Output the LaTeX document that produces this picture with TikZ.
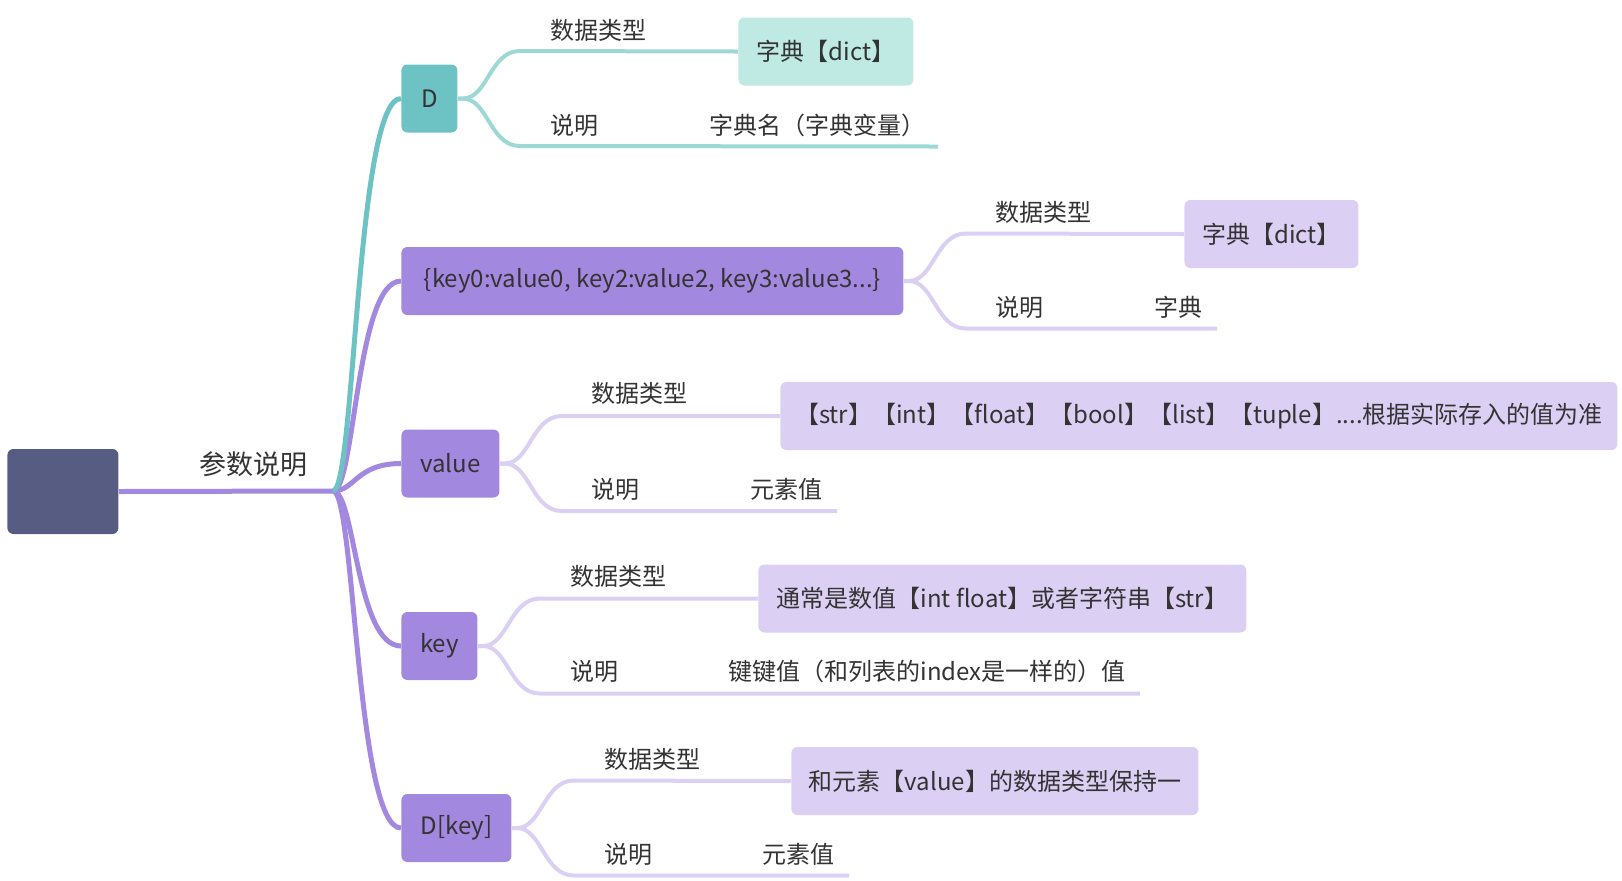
\documentclass[tikz,border=0pt]{standalone}
\usepackage{fontspec}
\setmainfont{Noto Sans CJK SC}
\usetikzlibrary{calc}
\definecolor{rootblue}{HTML}{575D82}
\definecolor{plum}{HTML}{A388DF}
\definecolor{lilac}{HTML}{DBD0F4}
\definecolor{tealdark}{HTML}{6DC3C3}
\definecolor{tealline}{HTML}{9DD8D5}
\definecolor{teallight}{HTML}{BFEAE3}
\definecolor{ink}{HTML}{333333}
\tikzset{x=0.5pt, y=-0.5pt, % one unit is one pixel of the layout, y runs down
        every node/.style={ % text of every topic
            text=ink,
            inner sep=0pt,
            font=\fontsize{12}{14}\selectfont},
        topic/.style={ % filled boxes, placed by their left edge
            rectangle,
            rounded corners=3pt,
            anchor=west,
            minimum height=34pt},
        lbl/.style={}, % plain labels sitting on a branch
        trunk/.style={ % branches leaving the central topic
            draw=plum,
            line width=2.5pt},
        twig/.style={ % branches of the second level
            draw=lilac,
            line width=2pt}
        }
\begin{document}
\begin{tikzpicture}
    \useasboundingbox (0,0) rectangle (1622,880);

    % central topic
    \node[topic, fill=rootblue, minimum width=55.5pt, minimum height=42.5pt] (root) at (7,491.5) {};
    \node[lbl, font=\fontsize{13.5}{16}\selectfont] (title) at (253,464) {参数说明};
    \coordinate (hub) at (333,491);

    % main topics
    \node[topic, fill=tealdark, minimum width=28pt] (d) at (401,98.5) {D};
    \node[topic, fill=plum, minimum width=251pt] (lit) at (401,281) {\{key0:value0, key2:value2, key3:value3...\}};
    \node[topic, fill=plum, minimum width=49pt] (val) at (401,463.5) {value};
    \node[topic, fill=plum, minimum width=38pt] (key) at (401,646) {key};
    \node[topic, fill=plum, minimum width=55pt] (dk) at (401,828) {D[key]};

    % D
    \node[lbl] (d-t) at (598,30) {数据类型};
    \node[topic, fill=teallight, minimum width=87.5pt] (d-tv) at (738,51.5) {字典【dict】};
    \node[lbl] (d-s) at (574,125) {说明};
    \node[lbl, anchor=west] (d-sv) at (709,125) {字典名（字典变量）};
    \coordinate (d-end) at (938,146.5);

    % dict literal
    \node[lbl] (lit-t) at (1043,212) {数据类型};
    \node[topic, fill=lilac, minimum width=87pt] (lit-tv) at (1184,234) {字典【dict】};
    \node[lbl] (lit-s) at (1019,307) {说明};
    \node[lbl, anchor=west] (lit-sv) at (1154,307) {字典};
    \coordinate (lit-end) at (1217,328.5);

    % value
    \node[lbl] (val-t) at (639,393) {数据类型};
    \node[topic, fill=lilac, minimum width=418.5pt] (val-tv) at (780,416) {【str】【int】【float】【bool】【list】【tuple】....根据实际存入的值为准};
    \node[lbl] (val-s) at (615,489) {说明};
    \node[lbl, anchor=west] (val-sv) at (750,489) {元素值};
    \coordinate (val-end) at (837,511);

    % key
    \node[lbl] (key-t) at (618,576) {数据类型};
    \node[topic, fill=lilac, minimum width=244pt] (key-tv) at (758,598.5) {通常是数值【int float】或者字符串【str】};
    \node[lbl] (key-s) at (594,671) {说明};
    \node[lbl, anchor=west] (key-sv) at (728,671) {键键值（和列表的index是一样的）值};
    \coordinate (key-end) at (1140,693.5);

    % D[key]
    \node[lbl] (dk-t) at (652,759) {数据类型};
    \node[topic, fill=lilac, minimum width=203.5pt] (dk-tv) at (791,781) {和元素【value】的数据类型保持一};
    \node[lbl] (dk-s) at (628,854) {说明};
    \node[lbl, anchor=west] (dk-sv) at (762,854) {元素值};
    \coordinate (dk-end) at (849,875.5);

    % branches
    \draw[trunk] (root.east) -- (hub);
    \foreach \n in {lit,val,key,dk}
        \draw[trunk] (hub) .. controls +(22,0) and +(-45,0) .. (\n.west);
    \draw[trunk, draw=tealdark] (hub) .. controls +(22,0) and +(-45,0) .. (d.west);

    \foreach \n/\col in {d/tealline, lit/lilac, val/lilac, key/lilac, dk/lilac} {
        \draw[twig, draw=\col] (\n.east) -- ++(5,0) .. controls +(25,0) and +(-30,0) .. ($(\n.east)+(62,-47.5)$) -- (\n-tv.west);
        \draw[twig, draw=\col] (\n.east) -- ++(5,0) .. controls +(25,0) and +(-30,0) .. ($(\n.east)+(62,47.5)$) -- (\n-end);
    }
\end{tikzpicture}
\end{document}
